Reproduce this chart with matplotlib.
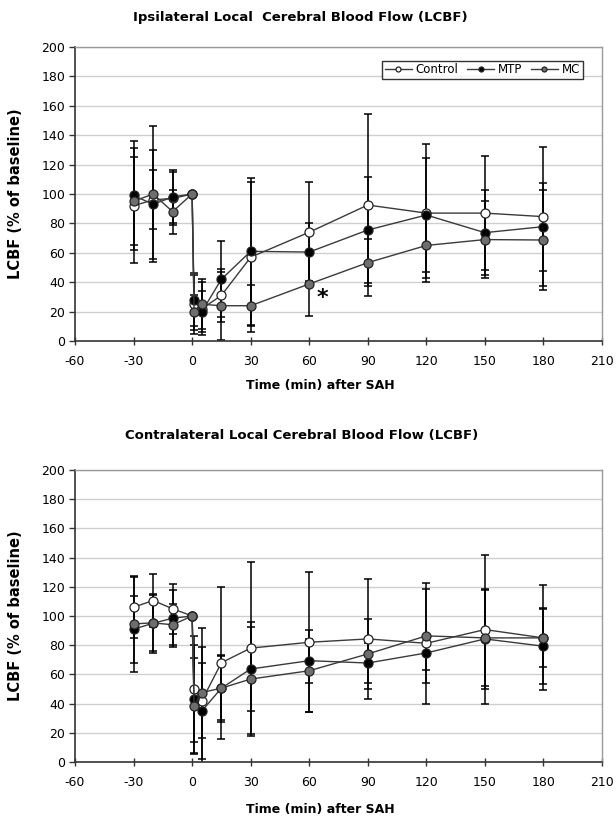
import matplotlib
matplotlib.use("Agg")
import matplotlib.pyplot as plt
import numpy as np

plt.rcParams['font.family'] = ['DejaVu Sans']
plt.rcParams['axes.unicode_minus'] = False

time = [-30, -20, -10, 0, 1, 5, 15, 30, 60, 90, 120, 150, 180]

# Ipsilateral
ipsi_control = [92, 96, 97, 100, 25, 22, 31, 57, 74, 92.5, 87, 87, 84.6]
ipsi_mtp = [99, 93, 98, 100, 28, 20, 42, 61, 60.5, 75.5, 85.7, 73.7, 77.8]
ipsi_mc = [95, 100, 88, 100, 19.5, 25, 24, 24, 38.8, 53.3, 65, 69, 68.7]
ipsi_control_err = [39, 20, 18, 0, 20, 18, 18, 51, 34, 62, 47, 39, 47.5]
ipsi_mtp_err = [37, 37, 18, 0, 18, 14, 26, 50, 20, 36, 38.5, 29, 30]
ipsi_mc_err = [30, 46, 15, 0, 12, 17, 23, 14, 22, 16, 22, 26, 34]

# Contralateral
contra_control = [106, 110.6, 105, 100, 50, 42, 68, 78, 82, 84.3, 81.3, 90.7, 85]
contra_mtp = [91, 95, 98.5, 100, 43, 35, 50.6, 63.7, 69.4, 67.8, 74.7, 84.3, 79.3]
contra_mc = [94.6, 95.3, 94, 100, 38.5, 47.6, 50.6, 56.8, 62.5, 74, 86.4, 85, 85]
contra_control_err = [21, 18, 17, 0, 36, 50, 52, 59, 48, 41, 41.5, 51, 36]
contra_mtp_err = [23, 20, 19.5, 0, 37, 33, 22, 29, 15, 14, 12, 34, 26]
contra_mc_err = [33, 19, 14, 0, 33, 31, 23, 39, 28, 24, 32, 33, 20]

titles = ["Ipsilateral Local  Cerebral Blood Flow (LCBF)",
          "Contralateral Local Cerebral Blood Flow (LCBF)"]
xlabel = "Time (min) after SAH"
ylabel = "LCBF (% of baseline)"
series_names = ["Control", "MTP", "MC"]
xticks = [-60, -30, 0, 30, 60, 90, 120, 150, 180, 210]
yticks = list(range(0, 201, 20))

W, H = 616, 826
fig = plt.figure(figsize=(W / 100, H / 100), dpi=100)

def px_axes(left, top, right, bottom):
    return fig.add_axes([left / W, 1 - bottom / H, (right - left) / W, (bottom - top) / H])

ax1 = px_axes(75, 47, 602, 341)
ax2 = px_axes(75, 470, 602, 762)

face = {"Control": "white", "MTP": "black", "MC": "#6e6e6e"}
line_col = "#3a3a3a"

def draw(ax, data, errs, legend=False):
    for name, y, e in zip(series_names, data, errs):
        ax.errorbar(time, y, yerr=e, fmt='none', ecolor='black', elinewidth=1.1,
                    capsize=3.2, capthick=1.1, zorder=2)
    handles = []
    for name, y in zip(series_names, data):
        h, = ax.plot(time, y, '-', color=line_col, lw=1.0, marker='o', ms=6.5,
                     mfc=face[name], mec='#222222', mew=0.9, zorder=3, label=name)
        handles.append(h)
    ax.set_xlim(-60, 210)
    ax.set_ylim(0, 200)
    ax.set_xticks(xticks)
    ax.set_yticks(yticks)
    for yy in yticks[1:]:
        ax.axhline(yy, color='#cfcfcf', lw=1.0, zorder=0)
    ax.tick_params(axis='x', direction='inout', length=6, width=1, labelsize=9, pad=7, color='#333333')
    ax.tick_params(axis='y', direction='out', length=4, width=1, labelsize=9, pad=3, color='#333333')
    for s in ['left', 'bottom']:
        ax.spines[s].set_color('#333333')
        ax.spines[s].set_linewidth(1.2)
    for s in ['top', 'right']:
        ax.spines[s].set_color('#9a9a9a')
        ax.spines[s].set_linewidth(1.0)
    if legend:
        leg = ax.legend(handles=handles, loc='upper right', bbox_to_anchor=(0.975, 0.972),
                        ncol=3, fontsize=8.5, frameon=True, fancybox=False,
                        handlelength=2.3, handletextpad=0.35, columnspacing=0.7,
                        borderpad=0.2, markerscale=0.55)
        leg.get_frame().set_edgecolor('black')
        leg.get_frame().set_linewidth(1.0)

draw(ax1, [ipsi_control, ipsi_mtp, ipsi_mc],
     [ipsi_control_err, ipsi_mtp_err, ipsi_mc_err], legend=True)
ax1.text(67, 29, "*", fontsize=16, fontweight='bold', ha='center', va='center')

draw(ax2, [contra_control, contra_mtp, contra_mc],
     [contra_control_err, contra_mtp_err, contra_mc_err])

def ftext(x, y, s, **kw):
    fig.text(x / W, 1 - y / H, s, ha='center', va='center', fontweight='bold', **kw)

ftext(300, 18, titles[0], fontsize=9.5)
ftext(302, 436, titles[1], fontsize=9.5)
ftext(320, 386, xlabel, fontsize=9)
ftext(320, 809, xlabel, fontsize=9)
ftext(16, 194, ylabel, fontsize=10.5, rotation=90)
ftext(16, 616, ylabel, fontsize=10.5, rotation=90)

fig.savefig("out.png", dpi=100)
